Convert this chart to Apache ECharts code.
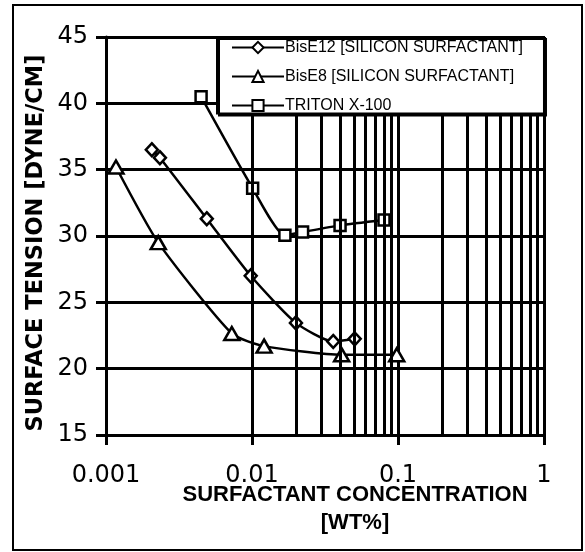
<!DOCTYPE html>
<html>
<head>
<meta charset="utf-8">
<script src="https://cdn.jsdelivr.net/npm/echarts@6/dist/echarts.min.js"></script>
<style>
html,body{margin:0;padding:0;background:#fff;}
#chart{width:585px;height:552px;}
</style>
</head>
<body>
<div id="chart"></div>
<script>
// ---- data ----
const seriesNames = ['BisE12 [SILICON SURFACTANT]', 'BisE8 [SILICON SURFACTANT]', 'TRITON X-100'];
const bisE12X = [0.00206, 0.00234, 0.0049, 0.0098, 0.020, 0.036, 0.0505];
const bisE12Y = [36.5, 35.9, 31.3, 27.0, 23.45, 22.05, 22.25];
const bisE8X = [0.00117, 0.00228, 0.00727, 0.0121, 0.0411, 0.098];
const bisE8Y = [35.2, 29.5, 22.65, 21.7, 21.05, 21.05];
const tritonX = [0.00448, 0.0101, 0.0168, 0.0222, 0.0401, 0.0802];
const tritonY = [40.5, 33.6, 30.05, 30.3, 30.8, 31.2];
const xTickLabels = ['0.001', '0.01', '0.1', '1'];
const xMinorGrid = [0.002,0.003,0.004,0.005,0.006,0.007,0.008,0.009,
                    0.02,0.03,0.04,0.05,0.06,0.07,0.08,0.09,
                    0.2,0.3,0.4,0.5,0.6,0.7,0.8,0.9];
const yMin = 15, yMax = 45, yStep = 5;
const xTitle = 'SURFACTANT CONCENTRATION\n[WT%]';
const yTitle = 'SURFACE TENSION [DYNE/CM]';

const pairs = (xs, ys) => xs.map((x, i) => [x, ys[i]]);
const symbols = ['diamond', 'triangle', 'rect'];
const symSizes = [[12, 13], [15, 13], [11, 11]];
const dataSets = [pairs(bisE12X, bisE12Y), pairs(bisE8X, bisE8Y), pairs(tritonX, tritonY)];

const chart = echarts.init(document.getElementById('chart'), null, {renderer: 'canvas'});

const series = dataSets.map((d, i) => ({
  name: seriesNames[i],
  type: 'line',
  data: d,
  smooth: 0.2,
  symbol: symbols[i],
  symbolSize: symSizes[i],
  showSymbol: true,
  z: 3,
  lineStyle: {color: '#000', width: 2.5},
  itemStyle: {color: '#fff', borderColor: '#000', borderWidth: 2.5},
  emphasis: {disabled: true},
  animation: false
}));
series.push({
  name: 'minorGrid',
  type: 'line',
  data: [],
  z: 1,
  silent: true,
  animation: false,
  markLine: {
    silent: true,
    animation: false,
    symbol: ['none', 'none'],
    label: {show: false},
    lineStyle: {color: '#000', width: 3, type: 'solid'},
    emphasis: {disabled: true},
    data: xMinorGrid.map(v => ({xAxis: v}))
  }
});

chart.setOption({
  animation: false,
  backgroundColor: '#fff',
  grid: {left: 106, right: 41, top: 37, bottom: 117, containLabel: false},
  legend: {
    data: seriesNames,
    orient: 'vertical',
    left: 217,
    top: 37,
    z: 20,
    zlevel: 1,
    itemWidth: 52,
    itemHeight: 14,
    itemGap: 13,
    padding: [2.5, 21, 0, 14],
    backgroundColor: '#fff',
    borderColor: '#000',
    borderWidth: 2,
    shadowColor: '#000',
    shadowOffsetX: 2,
    shadowOffsetY: 2,
    shadowBlur: 0,
    selectedMode: false,
    textStyle: {fontFamily: 'Liberation Sans, Arial, sans-serif', fontSize: 16, color: '#000', padding: [0,0,0,-4]}
  },
  xAxis: {
    type: 'log',
    logBase: 10,
    min: 0.001,
    max: 1,
    name: xTitle,
    nameLocation: 'middle',
    nameGap: 46,
    nameMoveOverlap: false,
    nameTextStyle: {fontFamily: 'Liberation Sans, Arial, sans-serif', fontWeight: 'bold', fontSize: 22, color: '#000', lineHeight: 28, padding: [0, 0, 0, 60]},
    axisLine: {show: true, lineStyle: {color: '#000', width: 3}},
    axisTick: {show: true, length: 10, inside: false, lineStyle: {color: '#000', width: 3}},
    axisLabel: {
      margin: 29,
      fontFamily: 'DejaVu Sans, sans-serif',
      fontSize: 24,
      color: '#000',
      formatter: (v, idx) => xTickLabels[idx] !== undefined ? xTickLabels[idx] : String(v)
    },
    splitLine: {show: true, lineStyle: {color: '#000', width: 3}},
    minorTick: {show: false},
    minorSplitLine: {show: false}
  },
  yAxis: {
    type: 'value',
    min: yMin,
    max: yMax,
    interval: yStep,
    name: yTitle,
    nameLocation: 'middle',
    nameGap: 58,
    nameMoveOverlap: false,
    nameRotate: 90,
    nameTextStyle: {fontFamily: 'DejaVu Sans, sans-serif', fontWeight: 'bold', fontSize: 22.5, color: '#000', padding: [0, 14, 0, 0]},
    axisLine: {show: true, lineStyle: {color: '#000', width: 3}},
    axisTick: {show: true, length: 10, inside: false, lineStyle: {color: '#000', width: 3}},
    axisLabel: {margin: 18, fontFamily: 'DejaVu Sans, sans-serif', fontSize: 24, color: '#000'},
    splitLine: {show: true, lineStyle: {color: '#000', width: 3}}
  },
  graphic: [{
    type: 'rect',
    silent: true,
    z: 100,
    shape: {x: 13, y: 5, width: 569, height: 545},
    style: {fill: 'none', stroke: '#000', lineWidth: 2}
  }],
  series: series
});
</script>
</body>
</html>
